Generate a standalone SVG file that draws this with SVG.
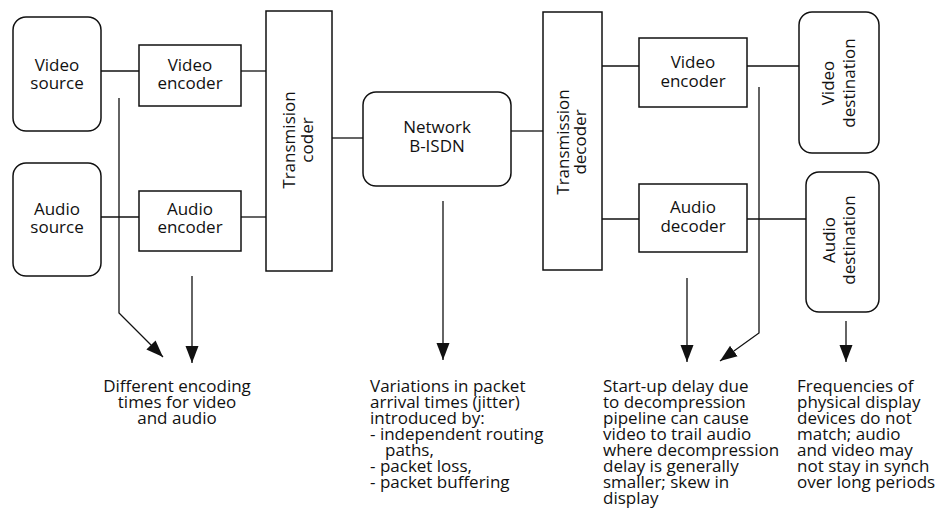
<svg xmlns="http://www.w3.org/2000/svg" width="947" height="518" viewBox="0 0 947 518">
<style>
.box{fill:#fff;stroke:#111;stroke-width:1.5}
.ln{fill:none;stroke:#111;stroke-width:1.3}
text{font-family:"Open Sans","DejaVu Sans",sans-serif;font-size:17px;fill:#111}
.c{text-anchor:middle}
</style>
<defs>
<marker id="ah" markerUnits="userSpaceOnUse" markerWidth="18" markerHeight="14" refX="17" refY="7" orient="auto">
<path d="M0,0.5 L17,7 L0,13.5 z" fill="#111"/>
</marker>
</defs>
<g id="connectors">
<line class="ln" x1="101" y1="71" x2="139" y2="71"/>
<line class="ln" x1="241" y1="71" x2="266" y2="71"/>
<line class="ln" x1="101" y1="217" x2="139" y2="217"/>
<line class="ln" x1="241" y1="217" x2="266" y2="217"/>
<line class="ln" x1="332" y1="138" x2="363" y2="138"/>
<line class="ln" x1="511" y1="131" x2="543" y2="131"/>
<line class="ln" x1="602" y1="66" x2="639" y2="66"/>
<line class="ln" x1="747" y1="66" x2="799" y2="66"/>
<line class="ln" x1="602" y1="219" x2="639" y2="219"/>
<line class="ln" x1="747" y1="219" x2="806" y2="219"/>
<polyline class="ln" points="119,98 119,313 163,357" marker-end="url(#ah)"/>
<line class="ln" x1="192" y1="276" x2="192" y2="363" marker-end="url(#ah)"/>
<line class="ln" x1="443" y1="201" x2="443" y2="360" marker-end="url(#ah)"/>
<line class="ln" x1="687" y1="278" x2="687" y2="362" marker-end="url(#ah)"/>
<polyline class="ln" points="759,87 759,333 720,361" marker-end="url(#ah)"/>
<line class="ln" x1="846" y1="321" x2="846" y2="362" marker-end="url(#ah)"/>
</g>
<g id="video-source">
<rect class="box" x="13" y="17" width="88" height="114" rx="13"/>
<text class="c" x="57" y="71">Video</text>
<text class="c" x="57" y="89">source</text>
</g>
<g id="audio-source">
<rect class="box" x="13" y="163" width="88" height="113" rx="13"/>
<text class="c" x="57" y="215">Audio</text>
<text class="c" x="57" y="233">source</text>
</g>
<g id="video-encoder">
<rect class="box" x="139" y="45" width="102" height="61"/>
<text class="c" x="190" y="71">Video</text>
<text class="c" x="190" y="89">encoder</text>
</g>
<g id="audio-encoder">
<rect class="box" x="139" y="191" width="102" height="60"/>
<text class="c" x="190" y="215">Audio</text>
<text class="c" x="190" y="233">encoder</text>
</g>
<g id="transmission-coder">
<rect class="box" x="266" y="11" width="66" height="260"/>
<text class="c" transform="translate(295,140) rotate(-90)">Transmision</text>
<text class="c" transform="translate(313,140) rotate(-90)">coder</text>
</g>
<g id="network">
<rect class="box" x="363" y="92" width="148" height="94" rx="13"/>
<text class="c" x="437" y="133">Network</text>
<text class="c" x="437" y="152">B-ISDN</text>
</g>
<g id="transmission-decoder">
<rect class="box" x="543" y="12" width="59" height="258"/>
<text class="c" transform="translate(569,142) rotate(-90)">Transmission</text>
<text class="c" transform="translate(586,142) rotate(-90)">decoder</text>
</g>
<g id="video-decoder">
<rect class="box" x="639" y="38" width="108" height="69"/>
<text class="c" x="693" y="68">Video</text>
<text class="c" x="693" y="87">encoder</text>
</g>
<g id="audio-decoder">
<rect class="box" x="639" y="184" width="108" height="68"/>
<text class="c" x="693" y="213">Audio</text>
<text class="c" x="693" y="232">decoder</text>
</g>
<g id="video-destination">
<rect class="box" x="799" y="12" width="80" height="141" rx="13"/>
<text class="c" transform="translate(834,83) rotate(-90)">Video</text>
<text class="c" transform="translate(855,83) rotate(-90)">destination</text>
</g>
<g id="audio-destination">
<rect class="box" x="806" y="172" width="73" height="140" rx="13"/>
<text class="c" transform="translate(835,240) rotate(-90)">Audio</text>
<text class="c" transform="translate(855,240) rotate(-90)">destination</text>
</g>
<g id="note-encoding">
<text class="c" x="177" y="392">Different encoding</text>
<text class="c" x="177" y="408">times for video</text>
<text class="c" x="177" y="424">and audio</text>
</g>
<g id="note-jitter">
<text x="370" y="392">Variations in packet</text>
<text x="370" y="408">arrival times (jitter)</text>
<text x="370" y="424">introduced by:</text>
<text x="370" y="440">- independent routing</text>
<text x="385" y="456">paths,</text>
<text x="370" y="472">- packet loss,</text>
<text x="370" y="488">- packet buffering</text>
</g>
<g id="note-startup">
<text x="603" y="392">Start-up delay due</text>
<text x="603" y="408">to decompression</text>
<text x="603" y="424">pipeline can cause</text>
<text x="603" y="440">video to trail audio</text>
<text x="603" y="456">where decompression</text>
<text x="603" y="472">delay is generally</text>
<text x="603" y="488">smaller; skew in</text>
<text x="603" y="504">display</text>
</g>
<g id="note-frequencies">
<text x="797" y="392">Frequencies of</text>
<text x="797" y="408">physical display</text>
<text x="797" y="424">devices do not</text>
<text x="797" y="440">match; audio</text>
<text x="797" y="456">and video may</text>
<text x="797" y="472">not stay in synch</text>
<text x="797" y="488">over long periods</text>
</g>
</svg>
